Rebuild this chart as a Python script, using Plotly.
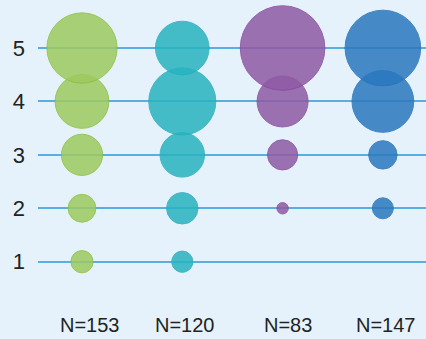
import plotly.graph_objects as go

# Response counts per rating (1-5) for each group
groups = ["N=153", "N=120", "N=83", "N=147"]
ratings = [1, 2, 3, 4, 5]
counts = {
    "N=153": [7, 11, 24, 41, 70],
    "N=120": [5, 11, 22, 50, 32],
    "N=83": [0, 1, 7, 20, 55],
    "N=147": [0, 6, 11, 52, 78],
}
fill_colors = ["#9dca5f", "#27b3c0", "#8f5aa5", "#2a78bf"]
line_colors = ["#8cbf3f", "#25aebb", "#86489c", "#2473b8"]
label_shift = [8, 3, 5, 3]

fig = go.Figure()
for i, g in enumerate(groups):
    total = sum(counts[g])
    xs, ys, pct = [], [], []
    for r, c in zip(ratings, counts[g]):
        if c > 0:
            xs.append(i)
            ys.append(r)
            pct.append(100.0 * c / total)
    fig.add_trace(go.Scatter(
        x=xs, y=ys, mode="markers",
        marker=dict(size=pct, sizemode="area", sizeref=2 / 108.0,
                    color=fill_colors[i], opacity=0.85,
                    line=dict(color=line_colors[i], width=1)),
        showlegend=False, hoverinfo="skip",
    ))
    # group size label under each column
    fig.add_annotation(x=i, y=0, xref="x", yref="paper", yanchor="middle",
                       text=g, showarrow=False, xshift=label_shift[i],
                       yshift=-25, borderpad=0,
                       font=dict(size=20, color="#222222"))

font_family = "Liberation Sans, Arial, sans-serif"
fig.update_layout(
    width=426, height=339,
    margin=dict(l=38, r=0, t=0, b=39),
    paper_bgcolor="#e6f2fb", plot_bgcolor="#e6f2fb",
    font=dict(family=font_family, size=22, color="#222222"),
    xaxis=dict(range=[-0.4387, 3.43], showticklabels=False,
               showgrid=False, zeroline=False, showline=False, ticks=""),
    yaxis=dict(range=[0.283, 5.899], tickvals=ratings, showgrid=True,
               gridcolor="#5aaee0", gridwidth=2, zeroline=False,
               showline=False, ticks="", ticklabelstandoff=12),
)
fig.write_html("out.html")
